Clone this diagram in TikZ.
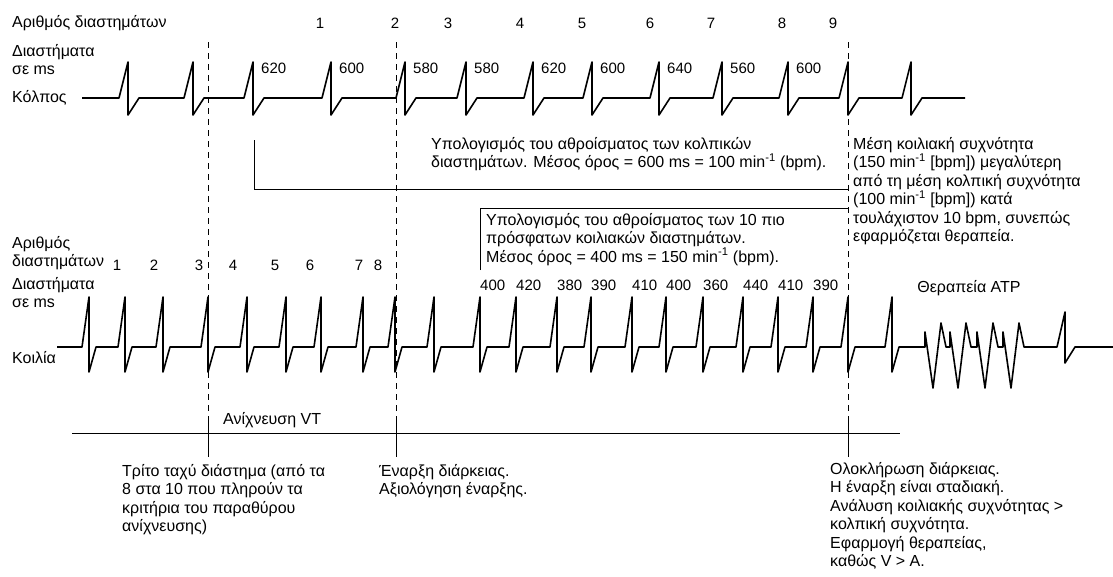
\documentclass[tikz,border=0pt]{standalone}
\usepackage{fontspec}
\setmainfont{Liberation Sans}
\begin{document}
\begin{tikzpicture}[x=1pt,y=-1pt,
  wave/.style={line width=1.6pt,line join=round},
  bar/.style={line width=0.9pt},
  sepline/.style={line width=0.9pt,dash pattern=on 6pt off 5pt},
  lbl/.style={inner sep=0pt,font=\fontsize{16}{18.5}\selectfont},
  num/.style={inner sep=0pt,font=\fontsize{15}{18}\selectfont},
  txt/.style={lbl,align=left,anchor=north west}]
\useasboundingbox (0,0) rectangle (1113,576);

% atrium
\node[lbl,anchor=west] (nrA) at (12,23) {Αριθμός διαστημάτων};
\foreach \x/\n in {320/1,395/2,448/3,520/4,582/5,650/6,711/7,782/8,833/9}
  \node[num] (na\n) at (\x,23) {\n};
\node[txt] (msA) at (12,44) {Διαστήματα\\σε ms};
\node[lbl,anchor=west] (kA) at (12,98) {Κόλπος};
\draw[wave] (82,98) foreach \p in {128,193,253,331,405,466,533,592,659,722,788,848,911}
  { -- (\p-9,98) -- (\p,62) -- (\p,115) -- (\p+11,98) } -- (965,98);
\foreach \x/\v [count=\i] in {253/620,331/600,405/580,466/580,533/620,592/600,659/640,722/560,788/600}
  \node[num,anchor=west] (ia\i) at (\x+8,68) {\v};

% atrial sum
\coordinate (b1t) at (254,140);
\coordinate (b1c) at (254,189);
\coordinate (b1r) at (848,189);
\draw[bar] (b1t) -- (b1c) -- (b1r);
\node[txt] (sumA) at (431,137) {Υπολογισμός του αθροίσματος των κολπικών\\διαστημάτων. Μέσος όρος = 600 ms = 100 min\textsuperscript{-1} (bpm).};

% ventricular sum
\coordinate (b2b) at (480,270);
\coordinate (b2c) at (480,208);
\coordinate (b2r) at (848,208);
\draw[bar] (b2b) -- (b2c) -- (b2r);
\node[txt] (sumV) at (486,213) {Υπολογισμός του αθροίσματος των 10 πιο\\πρόσφατων κοιλιακών διαστημάτων.\\Μέσος όρος = 400 ms = 150 min\textsuperscript{-1} (bpm).};

\node[txt] (cmp) at (853,137) {Μέση κοιλιακή συχνότητα\\(150 min\textsuperscript{-1} [bpm]) μεγαλύτερη\\από τη μέση κολπική συχνότητα\\(100 min\textsuperscript{-1} [bpm]) κατά\\τουλάχιστον 10 bpm, συνεπώς\\εφαρμόζεται θεραπεία.};

% ventricle
\node[txt] (nrV) at (12,236) {Αριθμός\\διαστημάτων};
\foreach \x/\n in {117/1,154/2,199/3,233/4,275/5,310/6,359/7,378/8}
  \node[num] (nv\n) at (\x,265) {\n};
\node[txt] (msV) at (12,277) {Διαστήματα\\σε ms};
\node[lbl,anchor=west] (kV) at (12,358) {Κοιλία};
\draw[wave] (57,347) foreach \p in {89,125,163,208,247,286,321,363,395,434,480,516,557,591,632,666,703,743,778,813,848,892}
  { -- (\p-7,347) -- (\p,297) -- (\p,372) -- (\p+7,347) } -- (925,347)
  foreach \q in {925,950,977,1003}
  { -- (\q,347) -- (\q,332) -- (\q+8,388) -- (\q+16,323) -- (\q+21,347) }
  -- (1057,347) -- (1065,312) -- (1065,363) -- (1075,347) -- (1113,347);
\foreach \x/\v [count=\i] in {480/400,516/420,557/380,591/390,632/410,666/400,703/360,743/440,778/410,813/390}
  \node[num,anchor=west] (iv\i) at (\x,285) {\v};
\node[lbl] (atp) at (969,288) {Θεραπεία ATP};

% markers
\foreach \x/\m in {208/a,396/b,848/c}{
  \coordinate (\m t) at (\x,42);
  \coordinate (\m m) at (\x,420);
  \coordinate (\m b) at (\x,457);
  \draw[sepline] (\m t) -- (\m m);
  \draw[bar] (\m m) -- (\m b);
}
\coordinate (tl) at (72,433);
\coordinate (tr) at (900,433);
\draw[bar] (tl) -- (tr);
\node[lbl,anchor=west] (vt) at (223,420) {Ανίχνευση VT};

\node[txt] (third) at (122,464) {Τρίτο ταχύ διάστημα (από τα\\8 στα 10 που πληρούν τα\\κριτήρια του παραθύρου\\ανίχνευσης)};
\node[txt] (onset) at (379,464) {Έναρξη διάρκειας.\\Αξιολόγηση έναρξης.};
\node[txt] (done) at (830,462) {Ολοκλήρωση διάρκειας.\\Η έναρξη είναι σταδιακή.\\Ανάλυση κοιλιακής συχνότητας >\\κολπική συχνότητα.\\Εφαρμογή θεραπείας,\\καθώς V > A.};
\end{tikzpicture}
\end{document}
